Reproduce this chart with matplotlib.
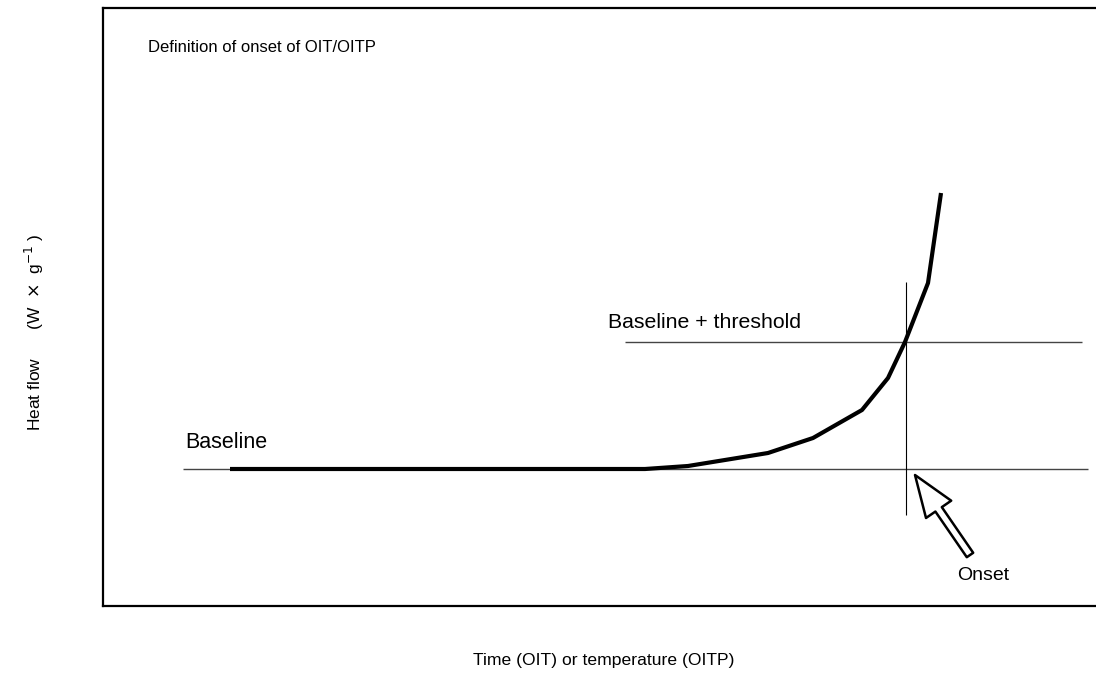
import matplotlib
matplotlib.use("Agg")
import matplotlib.pyplot as plt

plt.rcParams['font.family'] = ['Liberation Sans', 'DejaVu Sans']

# curve data (arbitrary units)
curve_x = [127, 542, 585, 665, 710, 759, 785, 802, 825, 838]
curve_y = [137, 137, 140, 153, 168, 196, 228, 264, 323, 413]
baseline_y = 137
baseline_span = [80, 985]
threshold_y = 264
threshold_span = [522, 979]
onset_x = 803
onset_span = [91, 324]
arrow_tip = (812, 131)
arrow_tail = (867, 51)

title_text = "Definition of onset of OIT/OITP"
xlabel = "Time (OIT) or temperature (OITP)"
ylabel = r"Heat flow      (W  $\times$  g$^{-1}$ )"

W, H = 1096, 673
fig = plt.figure(figsize=(W / 100, H / 100), dpi=100)
ax = fig.add_axes([103 / W, 1 - 606 / H, 1 - 103 / W, (606 - 8) / H])
ax.set_xlim(0, 993)
ax.set_ylim(0, 598)
ax.set_xticks([])
ax.set_yticks([])
for s in ['left', 'top', 'bottom']:
    ax.spines[s].set_linewidth(1.6)
ax.spines['right'].set_visible(False)

ax.hlines(baseline_y, baseline_span[0], baseline_span[1], color='#444444', lw=1.0)
ax.hlines(threshold_y, threshold_span[0], threshold_span[1], color='#444444', lw=1.0)
ax.vlines(onset_x, onset_span[0], onset_span[1], color='black', lw=0.8)
ax.plot(curve_x, curve_y, color='black', lw=3.0, solid_capstyle='butt')

ax.annotate('', xy=arrow_tip, xytext=arrow_tail,
            arrowprops=dict(arrowstyle='simple,head_length=1.5,head_width=1.1,tail_width=0.28',
                            mutation_scale=20, fc='white', ec='black', lw=1.8,
                            joinstyle='round', shrinkA=0, shrinkB=0))

ax.text(854, 31, "Onset", fontsize=14, ha='left', va='center')
ax.text(45, 559, title_text, fontsize=12, ha='left', va='center')
ax.text(505, 283, "Baseline + threshold", fontsize=15.3, ha='left', va='center')
ax.text(82, 163, "Baseline", fontsize=15.5, ha='left', va='center')

fig.text(604 / W, 1 - 660 / H, xlabel, fontsize=12.6, ha='center', va='center')
fig.text(34 / W, 1 - 332 / H, ylabel, fontsize=12.5, ha='center', va='center', rotation=90)

fig.savefig("out.png", dpi=100)
